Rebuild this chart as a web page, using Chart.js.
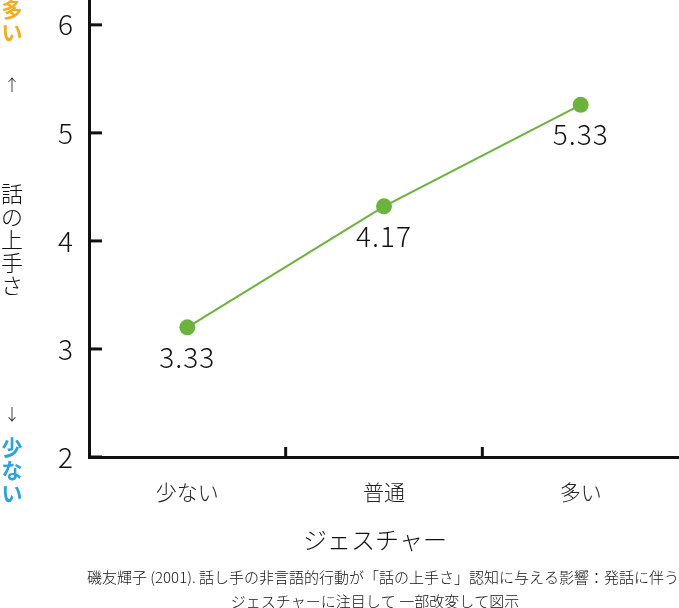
<!DOCTYPE html>
<html><head><meta charset="utf-8">
<script src="https://cdn.jsdelivr.net/npm/chart.js@4/dist/chart.umd.min.js"></script>
<style>html,body{margin:0;padding:0;background:#fff}canvas{display:block}</style>
</head><body>
<canvas id="c" width="679" height="608"></canvas>
<script>
const categories = ['少ない', '普通', '多い'];
const plottedValues = [3.2, 4.32, 5.26];
const valueLabels = ['3.33', '4.17', '5.33'];
const yTickValues = [2, 3, 4, 5, 6];
const xTitle = 'ジェスチャー';
const yTitle = '話の上手さ';
const yHigh = '多い';
const yLow = '少ない';
const captionLines = ['磯友輝子 (2001). 話し手の非言語的行動が「話の上手さ」認知に与える影響：発話に伴う', 'ジェスチャーに注目して 一部改変して図示'];

const FONT = '"Noto Sans CJK JP", "Noto Sans", sans-serif';
const GREEN = '#6bb33c';
const AXIS = '#111';

const decor = {
  id: 'decor',
  afterDraw(chart) {
    const c = chart.ctx, xs = chart.scales.x, ys = chart.scales.y, ca = chart.chartArea;
    c.save();
    c.strokeStyle = AXIS; c.lineWidth = 3;
    yTickValues.forEach(v => {
      const y = ys.getPixelForValue(v);
      c.beginPath(); c.moveTo(ca.left, y); c.lineTo(ca.left + 13, y); c.stroke();
    });
    for (let i = 0; i < categories.length - 1; i++) {
      const x = (xs.getPixelForValue(i) + xs.getPixelForValue(i + 1)) / 2;
      c.beginPath(); c.moveTo(x, ca.bottom); c.lineTo(x, ca.bottom - 10); c.stroke();
    }
    const meta = chart.getDatasetMeta(0);
    c.fillStyle = '#111'; c.font = '300 28px ' + FONT; c.textAlign = 'center'; c.textBaseline = 'middle';
    c.letterSpacing = '1px';
    meta.data.forEach((p, i) => { c.fillText(valueLabels[i], p.x, p.y + 30); });
    c.letterSpacing = '0px';
    c.font = '300 24px ' + FONT; c.fillStyle = '#111';
    c.fillText(xTitle, 375, 540);
    c.font = '300 15px ' + FONT;
    c.fillText(captionLines[0], 383, 577);
    c.fillText(captionLines[1], 375, 601);
    c.font = 'bold 21px ' + FONT; c.fillStyle = '#f5ab1b';
    [...yHigh].forEach((ch, i) => c.fillText(ch, 12, 9 + i * 23));
    c.fillStyle = '#2ba3dc';
    [...yLow].forEach((ch, i) => c.fillText(ch, 12, 447 + i * 23));
    c.fillStyle = '#111'; c.font = '300 16px ' + FONT;
    c.fillText('↑', 12, 85);
    c.fillText('↓', 12, 414);
    c.font = '300 22px ' + FONT;
    [...yTitle].forEach((ch, i) => c.fillText(ch, 12, 194 + i * 23));
    c.restore();
  }
};

new Chart(document.getElementById('c'), {
  type: 'line',
  data: {
    labels: categories,
    datasets: [{
      data: plottedValues,
      borderColor: GREEN, backgroundColor: GREEN,
      borderWidth: 2, pointRadius: 8, pointBorderWidth: 0,
      pointHoverRadius: 8, tension: 0, clip: false
    }]
  },
  options: {
    responsive: false, animation: false,
    layout: { padding: 0, autoPadding: false },
    plugins: { legend: { display: false }, tooltip: { enabled: false } },
    scales: {
      x: {
        offset: true,
        grid: { display: false, drawTicks: false },
        border: { color: AXIS, width: 3 },
        ticks: { font: { size: 21, family: FONT, weight: 300 }, color: '#222', padding: 22 },
        afterFit(s) { s.height = 151; s.paddingLeft = 0; s.paddingRight = 0; }
      },
      y: {
        min: 2, max: 6.23,
        afterBuildTicks(s) { s.ticks = yTickValues.map(v => ({ value: v })); },
        grid: { display: false, drawTicks: false },
        border: { color: AXIS, width: 3 },
        ticks: { font: { size: 28, family: FONT, weight: 300 }, color: '#111', padding: 16 },
        afterFit(s) { s.width = 89; s.paddingTop = 0; s.paddingBottom = 0; }
      }
    }
  },
  plugins: [decor]
});
</script>
</body></html>
